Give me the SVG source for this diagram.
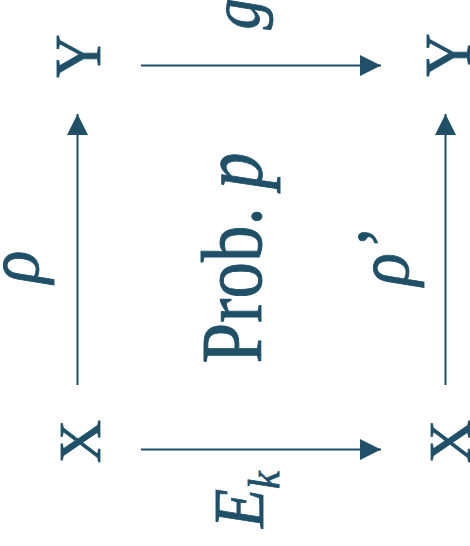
<svg xmlns="http://www.w3.org/2000/svg" width="470" height="546" viewBox="0 0 470 546">
<style>
text{font-family:"Liberation Serif","Times New Roman",serif;fill:#1f5068;stroke:#1f5068;stroke-width:0.8}
.n{font-size:60px;text-anchor:middle}
.i{font-style:italic}
.c line{stroke:#1f5068;stroke-width:2}
</style>
<defs>
<marker id="ah" markerUnits="userSpaceOnUse" markerWidth="22" markerHeight="22" refX="21" refY="10.5" orient="auto">
<path d="M0,0 L21,10.5 L0,21 z" fill="#1f5068"/>
</marker>
</defs>
<rect width="470" height="546" fill="#fff"/>
<g id="connectors" class="c">
<line x1="141" y1="65.5" x2="381" y2="65.5" marker-end="url(#ah)"/>
<line x1="141" y1="449.5" x2="381" y2="449.5" marker-end="url(#ah)"/>
<line x1="77.5" y1="385" x2="77.5" y2="114" marker-end="url(#ah)"/>
<line x1="445.5" y1="385" x2="445.5" y2="114" marker-end="url(#ah)"/>
</g>
<g id="nodeY1"><text class="n" transform="translate(100,56) rotate(-90) scale(1,1.08)">Y</text></g>
<g id="nodeY2"><text class="n" transform="translate(470,55) rotate(-90) scale(1,1.08)">Y</text></g>
<g id="nodeX1"><text class="n" transform="translate(100,441.5) rotate(-90)">X</text></g>
<g id="nodeX2"><text class="n" transform="translate(470,441.5) rotate(-90)">X</text></g>
<g id="labels">
<text class="n i" transform="translate(259,14) rotate(-90) scale(1,1.1)" style="font-size:62px">g</text>
<text class="n i" transform="translate(38,267) rotate(-90) scale(1,1.1)" style="font-size:68px">ρ</text>
<text class="n" transform="translate(261,258) rotate(-90) scale(1,1.19)" style="font-size:73px">Prob. <tspan class="i">p</tspan></text>
<text class="n i" transform="translate(408,258) rotate(-90) scale(1,1.1)" style="font-size:68px">ρ’</text>
<text class="i" transform="translate(263,528) rotate(-90) scale(1,1.12)" style="font-size:64px">E<tspan dy="14" style="font-size:40px">k</tspan></text>
</g>
</svg>
